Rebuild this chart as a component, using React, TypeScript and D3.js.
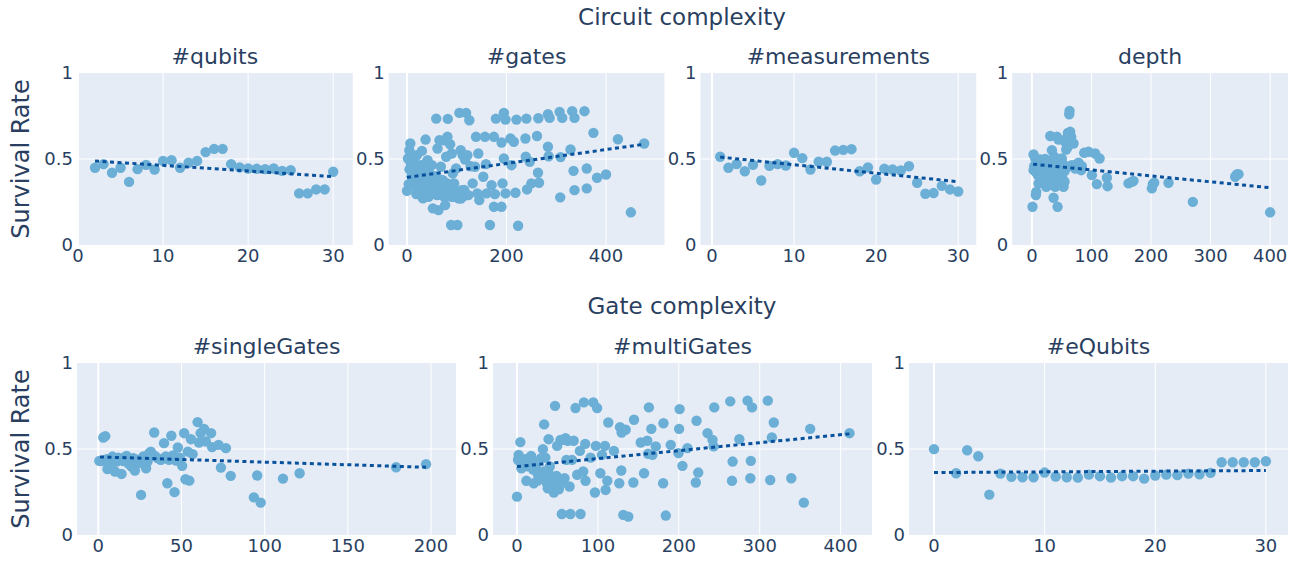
import React from 'react';
import * as d3 from 'd3';

const W = 1290;
const H = 561;
const FONT = '"DejaVu Sans", Verdana, sans-serif';
const TEXT = '#2a3f5f';
const BG = '#e5ecf6';
const MARKER = '#6baed6';
const TREND = '#08519c';

// ---------- data ----------
const qubitsX = [2,3,4,5,6,7,8,9,10,11,12,13,14,15,16,17,18,19,20,21,22,23,24,25,26,27,28,29,30];
const qubitsY = [0.449,0.470,0.420,0.449,0.367,0.441,0.466,0.439,0.489,0.493,0.449,0.478,0.489,0.540,0.559,0.559,0.470,0.451,0.445,0.443,0.441,0.445,0.431,0.435,0.300,0.300,0.323,0.323,0.426];
const qubitsTrend = [[2, 0.489], [30, 0.397]];

const gatesX = [0,2,4.7,6.7,3.3,8,10,12,14.7,16.7,18.7,20,22,24,26.7,28.7,30,32,34.7,37.3,38.7,41.3,43.3,45.3,48,50,52,53.3,56.7,58.7,61.3,63.3,65.3,68,70,72,74.7,76.7,78.7,81.3,82,83.3,86.7,88.7,90,92,94.7,96.7,98.7,101.3,103.3,105.3,108,110,112,114.7,116.7,118.7,121.3,123.3,125.3,128,132,136.7,138.7,141.3,143.3,145.3,153.3,156.7,158.7,160,170,166.7,174.7,176.7,178.7,174.7,190,190,192,194.7,194.7,198,198,208,210,214.7,218,223.3,220,238,240,238.7,241.3,246.7,250,261.3,263.3,264,265.3,283.3,284.7,283.3,286.7,308,308.7,306.7,312,328.7,332,334.7,336.7,336.7,356.7,361.3,361.3,374.7,382,400,424,450,476.7,
  5,9,12,15,18,20,23,25,27,30,33,35,38,40,42,47,50,55,57,60,62,66,68,72,75,78,80,84,87,90,95,100,105,108,112,115];
const gatesY = [0.315,0.503,0.551,0.590,0.354,0.470,0.426,0.493,0.381,0.455,0.296,0.522,0.416,0.338,0.464,0.377,0.547,0.271,0.426,0.613,0.358,0.493,0.280,0.416,0.338,0.464,0.213,0.377,0.319,0.735,0.561,0.203,0.609,0.455,0.290,0.377,0.609,0.232,0.513,0.629,0.733,0.300,0.586,0.116,0.532,0.416,0.358,0.280,0.445,0.116,0.271,0.768,0.551,0.319,0.522,0.300,0.497,0.768,0.522,0.290,0.725,0.458,0.358,0.455,0.629,0.300,0.532,0.261,0.397,0.629,0.470,0.300,0.348,0.116,0.629,0.296,0.735,0.222,0.222,0.596,0.358,0.503,0.768,0.729,0.300,0.619,0.464,0.600,0.304,0.112,0.729,0.619,0.735,0.513,0.323,0.484,0.358,0.634,0.420,0.737,0.362,0.571,0.516,0.760,0.739,0.277,0.511,0.774,0.739,0.555,0.778,0.431,0.739,0.319,0.778,0.329,0.445,0.652,0.391,0.410,0.615,0.190,0.590,
  0.44,0.40,0.36,0.47,0.43,0.33,0.45,0.39,0.31,0.42,0.36,0.47,0.40,0.33,0.44,0.37,0.30,0.35,0.40,0.29,0.34,0.31,0.38,0.33,0.28,0.32,0.36,0.29,0.31,0.28,0.30,0.29,0.31,0.27,0.28,0.32];
const gatesTrend = [[0, 0.393], [477, 0.586]];

const measX = [1,2,3,4,5,6,7,8,9,10,11,12,13,14,15,16,17,18,19,20,21,22,23,24,25,26,27,28,29,30];
const measY = [0.513,0.449,0.470,0.429,0.466,0.375,0.460,0.470,0.462,0.536,0.505,0.439,0.484,0.484,0.549,0.553,0.557,0.429,0.451,0.381,0.443,0.439,0.433,0.458,0.362,0.298,0.302,0.344,0.323,0.311];
const measTrend = [[1, 0.511], [30, 0.368]];

const depthX = [1,2.8,2.8,5.6,6.7,7.3,8.4,10,11.2,14,15.1,16.8,18.5,20.7,22.4,24,26.3,28.5,30.8,31.9,33.6,35.2,36.4,37.5,39.2,40.8,43.1,42,44.8,46.4,47.6,50.3,52,53.1,54.8,55.9,57.6,59.9,60.4,62.7,63.2,64.3,66,67.1,69.9,72.7,75.5,78.3,83.9,82.8,87.8,95.1,100.7,106.3,109,113.6,125.9,127,162.2,167.8,170.6,201.4,203,205.3,229.4,270.2,341.3,344,346.9,400,
  4,8,12,15,20,25,28,35,38,42,45,48,55,58,62,65,60,52,30,33,22,18];
const depthY = [0.222,0.526,0.435,0.503,0.290,0.309,0.474,0.406,0.358,0.497,0.445,0.377,0.478,0.426,0.455,0.338,0.397,0.458,0.634,0.381,0.551,0.484,0.275,0.513,0.338,0.455,0.222,0.629,0.613,0.416,0.464,0.503,0.381,0.338,0.368,0.600,0.555,0.455,0.652,0.760,0.780,0.658,0.629,0.464,0.590,0.445,0.470,0.478,0.458,0.435,0.536,0.542,0.406,0.532,0.354,0.503,0.391,0.342,0.358,0.368,0.373,0.329,0.354,0.362,0.362,0.251,0.397,0.410,0.412,0.190,
  0.46,0.42,0.44,0.40,0.47,0.43,0.41,0.44,0.40,0.46,0.38,0.42,0.43,0.62,0.64,0.60,0.57,0.47,0.36,0.35,0.50,0.44];
const depthTrend = [[2, 0.470], [400, 0.333]];

const singleX = [0.6,3,4.2,6,5.5,7,8.5,10,11,14,13,16,18,20,21,22,23,24,25.7,27,28.7,29.6,30.6,31.6,32.6,33.6,35.6,37.5,39.5,40.5,41.5,42.5,43.9,44.9,45.8,46.8,47.8,48.8,50.4,51.6,52.4,53.8,54.7,55.7,56.7,59.7,60.5,61.5,63.6,64.6,67.8,68.4,72.3,73.7,76.7,79.6,93.5,95.5,97.6,111,121,179,197,
  2,5,8,10,12,15,17,19,22,25,28,30,34,38,42,46,49];
const singleY = [0.431,0.567,0.575,0.420,0.383,0.398,0.456,0.369,0.427,0.355,0.437,0.452,0.417,0.398,0.447,0.375,0.417,0.437,0.233,0.456,0.388,0.427,0.476,0.485,0.460,0.596,0.447,0.437,0.534,0.456,0.301,0.437,0.577,0.462,0.249,0.433,0.509,0.447,0.402,0.592,0.324,0.485,0.316,0.557,0.470,0.656,0.538,0.592,0.617,0.544,0.592,0.511,0.524,0.392,0.505,0.344,0.219,0.346,0.188,0.328,0.359,0.394,0.412,
  0.43,0.44,0.42,0.44,0.45,0.43,0.46,0.41,0.44,0.42,0.44,0.45,0.46,0.44,0.45,0.44,0.45];
const singleTrend = [[1, 0.454], [197, 0.394]];

const multiX = [0,2,1.2,4.1,5.4,8.3,11.6,14.5,17.4,18.6,20.7,22.7,25.6,28,29.8,32,33.5,35,36,38,39,40.5,43.4,45.5,47,48.8,49.6,51.7,53.7,55.4,57,58.7,60,61,62.8,64.9,66,68,70,72.3,74.4,77.7,78.5,81.8,82.6,84.3,84.7,90.9,94.2,96.3,97.5,99,103,105,108.7,109.5,111.6,112.8,119.8,126.4,127.3,128.9,129.3,131.4,134.3,137.6,143.8,144.6,152.9,157,161,162,163,166,167.4,171.5,180.6,181,183.9,190,199.6,200.4,201,204.5,210.7,221,221.9,224,235.5,241.7,243,243.8,263.6,265.7,266.5,274.8,285,288.4,289,290.5,310,313,315,317.4,339,354.5,362.4,411,
  3,6,10,13,16,20,23,26,30,33,37,40,44,47,50,55];
const multiY = [0.223,0.466,0.437,0.540,0.388,0.427,0.315,0.414,0.460,0.427,0.301,0.398,0.316,0.340,0.447,0.499,0.643,0.450,0.340,0.272,0.557,0.398,0.291,0.247,0.751,0.344,0.518,0.266,0.553,0.122,0.553,0.330,0.563,0.437,0.548,0.282,0.122,0.437,0.548,0.738,0.350,0.489,0.122,0.369,0.771,0.530,0.315,0.450,0.771,0.247,0.518,0.738,0.359,0.466,0.518,0.262,0.315,0.654,0.489,0.301,0.627,0.375,0.596,0.117,0.612,0.107,0.305,0.670,0.538,0.359,0.548,0.472,0.742,0.617,0.466,0.515,0.301,0.650,0.113,0.524,0.476,0.617,0.732,0.402,0.505,0.305,0.664,0.363,0.592,0.553,0.515,0.742,0.777,0.315,0.427,0.557,0.781,0.330,0.431,0.742,0.781,0.320,0.567,0.654,0.330,0.188,0.617,0.592,
  0.43,0.42,0.44,0.40,0.42,0.38,0.39,0.35,0.33,0.37,0.30,0.35,0.28,0.33,0.27,0.30];
const multiTrend = [[0, 0.398], [411, 0.588]];

const eqX = [0,2,3,4,5,6,7,8,9,10,11,12,13,14,15,16,17,18,19,20,21,22,23,24,25,26,27,28,29,30];
const eqY = [0.499,0.359,0.493,0.458,0.235,0.357,0.338,0.336,0.336,0.363,0.340,0.336,0.334,0.351,0.342,0.334,0.342,0.342,0.328,0.346,0.351,0.348,0.357,0.353,0.361,0.423,0.423,0.423,0.423,0.429];
const eqTrend = [[0, 0.363], [30, 0.375]];

const yTicks = [0, 0.5, 1];
const yTickLabels = ['0', '0.5', '1'];
const groupTitles = ['Circuit complexity', 'Gate complexity'];
const yTitle = 'Survival Rate';

// ---------- layout ----------
const TOP = { y0: 73, y1: 245 };
const BOT = { y0: 363, y1: 535 };

const panels = [
  { title: '#qubits', xs: qubitsX, ys: qubitsY, trend: qubitsTrend, domain: [-0.12, 32.3], ticks: [0, 10, 20, 30], x0: 77, x1: 352.75, row: TOP },
  { title: '#gates', xs: gatesX, ys: gatesY, trend: gatesTrend, domain: [-36.7, 517.6], ticks: [0, 200, 400], x0: 388.75, x1: 664.5, row: TOP },
  { title: '#measurements', xs: measX, ys: measY, trend: measTrend, domain: [-1.4, 32.2], ticks: [0, 10, 20, 30], x0: 700.5, x1: 976.25, row: TOP },
  { title: 'depth', xs: depthX, ys: depthY, trend: depthTrend, domain: [-33, 430], ticks: [0, 100, 200, 300, 400], x0: 1012.25, x1: 1288, row: TOP },
  { title: '#singleGates', xs: singleX, ys: singleY, trend: singleTrend, domain: [-12.8, 215], ticks: [0, 50, 100, 150, 200], x0: 77, x1: 456, row: BOT },
  { title: '#multiGates', xs: multiX, ys: multiY, trend: multiTrend, domain: [-29.7, 438.8], ticks: [0, 100, 200, 300, 400], x0: 493, x1: 872, row: BOT },
  { title: '#eQubits', xs: eqX, ys: eqY, trend: eqTrend, domain: [-2.26, 32.0], ticks: [0, 10, 20, 30], x0: 909, x1: 1288, row: BOT },
];

function Panel({ p }: { p: any }) {
  const x = d3.scaleLinear().domain(p.domain).range([p.x0, p.x1]);
  const y = d3.scaleLinear().domain([0, 1]).range([p.row.y1, p.row.y0]);
  const line = d3.line<number[]>().x(d => x(d[0])).y(d => y(d[1]));
  const cx = (p.x0 + p.x1) / 2;
  return (
    <g>
      <rect x={p.x0} y={p.row.y0} width={p.x1 - p.x0} height={p.row.y1 - p.row.y0} fill={BG} />
      {p.ticks.map((t: number) => (
        <line key={'gx' + t} x1={x(t)} x2={x(t)} y1={p.row.y0} y2={p.row.y1} stroke="#fff" strokeWidth={t === 0 ? 2 : 1} />
      ))}
      <line x1={p.x0} x2={p.x1} y1={y(0.5)} y2={y(0.5)} stroke="#fff" strokeWidth={1} />
      {p.xs.map((v: number, i: number) => (
        <circle key={i} cx={x(v)} cy={y(p.ys[i])} r={5.2} fill={MARKER} />
      ))}
      <path d={line(p.trend) || ''} fill="none" stroke={TREND} strokeWidth={3} strokeDasharray="4,3.5" />
      {p.ticks.map((t: number) => (
        <text key={'tx' + t} x={x(t)} y={p.row.y1 + 17} textAnchor="middle" fontSize={18} fill={TEXT} fontFamily={FONT}>{t}</text>
      ))}
      {yTicks.map((t, i) => (
        <text key={'ty' + t} x={p.x0 - 4} y={y(t)} dy="0.36em" textAnchor="end" fontSize={18} fill={TEXT} fontFamily={FONT}>{yTickLabels[i]}</text>
      ))}
      <text x={cx} y={p.row.y0 - 9} textAnchor="middle" fontSize={22} fill={TEXT} fontFamily={FONT}>{p.title}</text>
    </g>
  );
}

export default function App() {
  return (
    <div style={{ position: 'absolute', left: 0, top: 0 }}>
      <svg width={W} height={H} xmlns="http://www.w3.org/2000/svg" style={{ display: 'block', background: '#fff' }}>
        {panels.map((p, i) => <Panel key={i} p={p} />)}
        <text x={682} y={25} textAnchor="middle" fontSize={23} fill={TEXT} fontFamily={FONT}>{groupTitles[0]}</text>
        <text x={682} y={314} textAnchor="middle" fontSize={23} fill={TEXT} fontFamily={FONT}>{groupTitles[1]}</text>
        <text transform={`translate(29,${(TOP.y0 + TOP.y1) / 2}) rotate(-90)`} textAnchor="middle" fontSize={24} fill={TEXT} fontFamily={FONT}>{yTitle}</text>
        <text transform={`translate(29,${(BOT.y0 + BOT.y1) / 2}) rotate(-90)`} textAnchor="middle" fontSize={24} fill={TEXT} fontFamily={FONT}>{yTitle}</text>
      </svg>
    </div>
  );
}
